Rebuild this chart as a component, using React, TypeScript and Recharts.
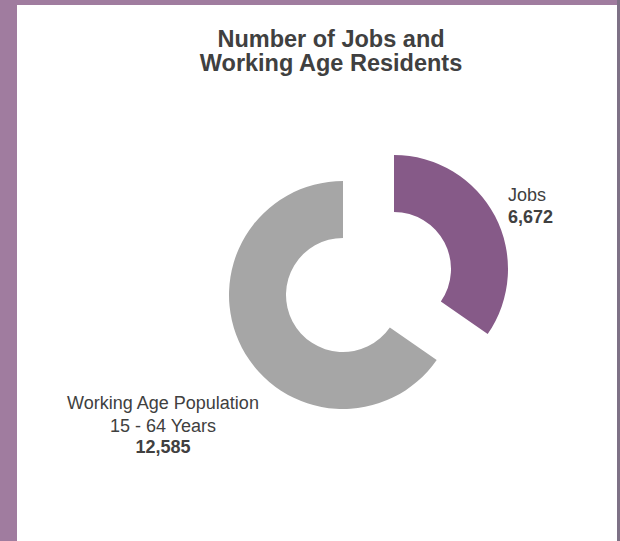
import React from 'react';
import { PieChart, Pie, Cell } from 'recharts';

const categories = ['Jobs', 'Working Age Population'];
const subLabels = ['', '15 - 64 Years'];
const values = [6672, 12585];
const colors = ['#865a88', '#a6a6a6'];
const titleLines = ['Number of Jobs and', 'Working Age Residents'];

const data = categories.map((name, i) => ({ name, value: values[i], sub: subLabels[i] }));

const FONT = 'Liberation Sans, Arial, sans-serif';
const TEXT = '#404040';

const fmt = (v: number) => v.toLocaleString('en-US');

const txtStyle: React.CSSProperties = { fontFamily: FONT };

const renderLabel = (visibleIndex: number) => (props: any) => {
  const { cx, cy, outerRadius, index } = props;
  if (index !== visibleIndex) return null;
  const d = data[index];
  if (index === 0) {
    const x = cx + outerRadius;
    return (
      <g>
        <text x={x} y={cy - 68} textAnchor="start" style={txtStyle} fontSize={18} fill={TEXT}>{d.name}</text>
        <text x={x} y={cy - 46} textAnchor="start" style={txtStyle} fontSize={18} fontWeight="bold" fill={TEXT}>{fmt(d.value)}</text>
      </g>
    );
  }
  const x = cx - 180;
  return (
    <g>
      <text x={x} y={cy + 114} textAnchor="middle" style={txtStyle} fontSize={18} fill={TEXT}>{d.name}</text>
      <text x={x} y={cy + 137} textAnchor="middle" style={txtStyle} fontSize={18} fill={TEXT}>{d.sub}</text>
      <text x={x} y={cy + 158} textAnchor="middle" style={txtStyle} fontSize={18} fontWeight="bold" fill={TEXT}>{fmt(d.value)}</text>
    </g>
  );
};

export default function App() {
  return (
    <div style={{ position: 'absolute', left: 0, top: 0, width: 620, height: 541, background: '#a07c9f', fontFamily: FONT }}>
      <div style={{ position: 'absolute', right: 0, top: 0, width: 3, height: 541, background: '#7e7186' }} />
      <div style={{ position: 'absolute', left: 17, top: 5, width: 600, height: 536, background: '#ffffff' }}>
        <PieChart width={600} height={536} margin={{ top: 0, right: 0, bottom: 0, left: 0 }}>
          <text x={314} y={42} textAnchor="middle" style={txtStyle} fontSize={23.5} fontWeight="bold" fill={TEXT}>{titleLines[0]}</text>
          <text x={314} y={66} textAnchor="middle" style={txtStyle} fontSize={23.5} fontWeight="bold" fill={TEXT}>{titleLines[1]}</text>
          <Pie
            data={data}
            dataKey="value"
            nameKey="name"
            cx={326}
            cy={290}
            innerRadius={57}
            outerRadius={114}
            startAngle={90}
            endAngle={-270}
            stroke="none"
            isAnimationActive={false}
            labelLine={false}
            label={renderLabel(1)}
          >
            {data.map((d, i) => (
              <Cell key={d.name} fill={i === 1 ? colors[1] : 'transparent'} />
            ))}
          </Pie>
          <Pie
            data={data}
            dataKey="value"
            nameKey="name"
            cx={377}
            cy={264}
            innerRadius={57}
            outerRadius={114}
            startAngle={90}
            endAngle={-270}
            stroke="none"
            isAnimationActive={false}
            labelLine={false}
            label={renderLabel(0)}
          >
            {data.map((d, i) => (
              <Cell key={d.name} fill={i === 0 ? colors[0] : 'transparent'} />
            ))}
          </Pie>
        </PieChart>
      </div>
    </div>
  );
}
